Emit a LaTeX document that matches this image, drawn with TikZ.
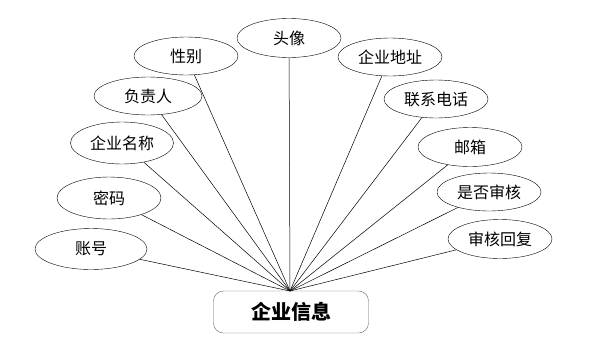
\documentclass[tikz,border=0pt]{standalone}
\usepackage{fontspec}
\newfontfamily\cjk{Noto Sans CJK SC}
\usetikzlibrary{shapes.geometric}

\begin{document}
\begin{tikzpicture}[x=1pt, y=-1pt,
  attr/.style={draw, ellipse, minimum width=104pt, minimum height=39pt, inner sep=0pt, font=\cjk\fontsize{16pt}{16pt}\selectfont},
  entity/.style={draw=black!60, rounded corners=10pt, minimum width=155pt, minimum height=42pt, font=\cjk\bfseries\fontsize{20pt}{20pt}\selectfont},
  link/.style={line width=0.5pt}]
\useasboundingbox (0,0) rectangle (593,359);
\node[entity] (info) at (291,312) {企业信息};
\coordinate (hub) at (290,291);
% attributes, left side
\node[attr, minimum width=112pt, minimum height=41pt] (acct) at (91,249) {账号};
\node[attr, minimum height=42pt] (pwd) at (109,198) {密码};
\node[attr, minimum width=103pt, minimum height=42pt] (name) at (122,143) {企业名称};
\node[attr, minimum width=108pt, minimum height=38pt] (boss) at (148,96) {负责人};
\node[attr, minimum height=38pt] (sex) at (186,56) {性别};
\node[attr] (avatar) at (289,38) {头像};
% attributes, right side
\node[attr, minimum height=38pt] (addr) at (390,57) {企业地址};
\node[attr, minimum height=38pt] (tel) at (436,99) {联系电话};
\node[attr] (mail) at (470,147) {邮箱};
\node[attr, minimum height=38pt] (audit) at (489,192) {是否审核};
\node[attr] (reply) at (500,239) {审核回复};
\foreach \a in {acct, pwd, name, boss, sex, avatar, addr, tel, mail, audit, reply}
  \draw[link] (\a) -- (hub);
\end{tikzpicture}
\end{document}
